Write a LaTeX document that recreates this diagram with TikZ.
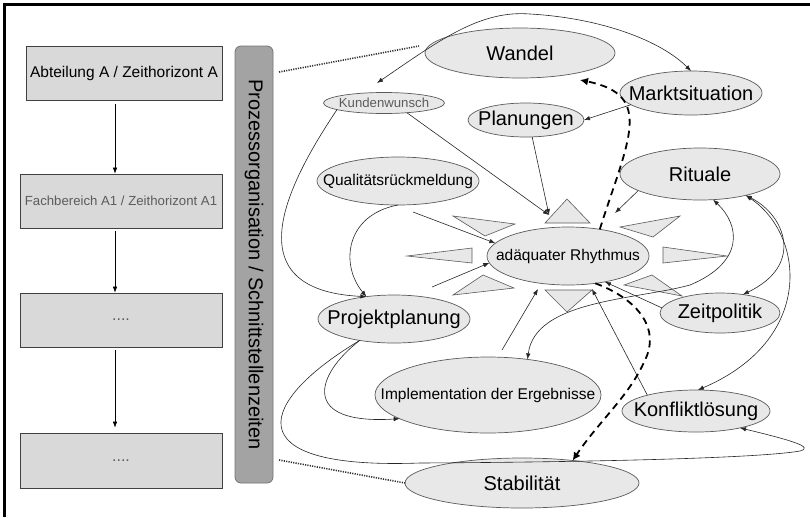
\documentclass[tikz,border=0pt]{standalone}
\usepackage{fontspec}
\setmainfont{Liberation Sans}
\usetikzlibrary{shapes.geometric,arrows.meta}

\definecolor{ellfill}{HTML}{E8E8E8}
\definecolor{ellline}{HTML}{5A5A5A}
\definecolor{boxfill}{HTML}{D9D9D9}
\definecolor{barfill}{HTML}{A3A3A3}
\definecolor{edgecol}{HTML}{262626}
\definecolor{softtext}{HTML}{5C5C5C}

% label of fixed-size ellipses: zero width so the ellipse keeps its set size
\newcommand\tagtext[1]{\makebox[0pt]{#1}}

\begin{document}
\begin{tikzpicture}[x=1pt,y=-1pt,
  topic/.style={ellipse, draw=ellline, fill=ellfill, line width=0.7pt, inner sep=0pt, outer sep=0pt, text=black},
  big/.style={font=\fontsize{20}{24}\selectfont},
  mid/.style={font=\fontsize{15.5}{18}\selectfont},
  small/.style={font=\fontsize{13.2}{16}\selectfont},
  unitbox/.style={rectangle, draw=black!75, fill=boxfill, line width=0.7pt, inner sep=0pt},
  flow/.style={draw=edgecol, line width=0.6pt, -{Latex[length=6pt,width=4.5pt]}},
  both/.style={draw=edgecol, line width=0.6pt, {Latex[length=6pt,width=4.5pt]}-{Latex[length=6pt,width=4.5pt]}},
  strong/.style={draw=black, line width=1.8pt, dash pattern=on 7pt off 5pt, -{Latex[length=8pt,width=8pt]}},
  link/.style={draw=black!80, line width=1.6pt, dash pattern=on 1.2pt off 1.2pt},
  ray/.style={draw=ellline, fill=ellfill, line width=0.6pt, line join=miter},
  down/.style={draw=black, line width=0.6pt, -{Latex[length=6pt,width=4.5pt]}},
]
\useasboundingbox (0,0) rectangle (810,517);

% frame (top and left)
\draw[line width=2.8pt] (3,4.5) -- (810,4.5);
\draw[line width=2.8pt] (4.5,3) -- (4.5,517);

% organisational units
\node[unitbox, minimum width=196pt, minimum height=54pt, mid] (abt) at (124,73) {Abteilung A / Zeithorizont A};
\node[unitbox, minimum width=202pt, minimum height=54pt, small, text=softtext] (fach) at (121,201) {Fachbereich A1 / Zeithorizont A1};
\node[unitbox, minimum width=202pt, minimum height=54pt, font=\fontsize{16}{18}\selectfont, text=softtext] (u3) at (121,320) {....};
\node[unitbox, minimum width=202pt, minimum height=55pt, font=\fontsize{16}{18}\selectfont, text=softtext] (u4) at (121,460.5) {....};

\coordinate (ax) at (115,0);
\draw[down, shorten <=4pt] (abt.south -| ax) -- (fach.north -| ax);
\draw[down, shorten <=3pt] (fach.south -| ax) -- (u3.north -| ax);
\draw[down, shorten <=3pt, shorten >=5pt] (u3.south -| ax) -- (u4.north -| ax);

% process bar
\node[rotate=-90, draw=black!55, fill=barfill, rounded corners=6pt, line width=0.8pt,
      minimum width=437pt, minimum height=38pt, inner sep=0pt, big] (bar) at (254,264.5)
      {Prozessorganisation / Schnittstellenzeiten};

% rays around the rhythm
\draw[ray] (545,223) -- (567,199) -- (590,223) -- cycle;
\draw[ray] (453,216) -- (515,224) -- (485,236) -- cycle;
\draw[ray] (620,227) -- (680,216) -- (653,237) -- cycle;
\draw[ray] (407,256) -- (472,248) -- (472,263) -- cycle;
\draw[ray] (663,247) -- (727,256) -- (663,263) -- cycle;
\draw[ray] (453,295) -- (483,275) -- (514,288) -- cycle;
\draw[ray] (545,290) -- (592,290) -- (567,312) -- cycle;
\draw[ray] (624,285) -- (652,275) -- (682,296) -- cycle;

% factors
\node[topic, big, minimum width=190pt, minimum height=50pt] (wandel) at (520,53) {\tagtext{Wandel}};
\node[topic, big, minimum width=142pt, minimum height=44pt] (markt) at (691,93) {\tagtext{Marktsituation}};
\node[topic, big, minimum width=116pt, minimum height=34pt] (plan) at (526,120) {\tagtext{Planungen}};
\node[topic, small, text=softtext, minimum width=121pt, minimum height=21pt] (kunden) at (384,103) {\tagtext{Kundenwunsch}};
\node[topic, mid, minimum width=162pt, minimum height=48pt] (qual) at (398,181) {\tagtext{Qualitätsrückmeldung}};
\node[topic, big, minimum width=160pt, minimum height=52pt] (rituale) at (700,174) {\tagtext{Rituale}};
\node[topic, mid, minimum width=162pt, minimum height=58pt] (rhythm) at (568,256) {\tagtext{adäquater Rhythmus}};
\node[topic, big, minimum width=120pt, minimum height=40pt] (zeit) at (720,313) {\tagtext{Zeitpolitik}};
\node[topic, big, minimum width=152pt, minimum height=48pt] (projekt) at (394,319) {\tagtext{Projektplanung}};
\node[topic, mid, minimum width=226pt, minimum height=76pt] (impl) at (488,395) {\tagtext{Implementation der Ergebnisse}};
\node[topic, big, minimum width=148pt, minimum height=42pt] (konflikt) at (696,411) {\tagtext{Konfliktlösung}};
\node[topic, big, minimum width=234pt, minimum height=50pt] (stab) at (522,483) {\tagtext{Stabilität}};

% free ends of connectors
\coordinate (kwtip) at (377,83);
\coordinate (toptip) at (549,215);
\coordinate (wdtip) at (580,80);
\coordinate (rtip) at (615,213);
\coordinate (qstart) at (413,212);
\coordinate (pstart) at (432,287);
\coordinate (istart) at (502,350);
\coordinate (itip) at (538,289);
\coordinate (ktip) at (592,289);
\coordinate (dtop) at (279,72);
\coordinate (dwand) at (419,46);
\coordinate (dbot) at (279,460);

% dotted links from the bar
\draw[link] (dtop) -- (dwand);
\draw[link] (dbot) -- (stab.west);

% connectors
\draw[both] (kwtip) .. controls (440,40) and (480,10) .. (530,14) .. controls (600,18) and (660,40) .. (markt.north);
\draw[flow] (markt.191) -- (plan.east);
\draw[flow] (plan.-70) -- (toptip);
\draw[flow] (kunden.-23) -- (toptip);
\draw[strong] (rhythm.40) .. controls (628,140) and (655,95) .. (wdtip);
\draw[flow] (rituale.-165) -- (rtip);
\draw[flow] (qual.south) .. controls (345,215) and (340,265) .. (projekt.141);
\draw[flow] (kunden.-172) .. controls (290,180) and (230,290) .. (projekt.141);
\draw[flow] (qstart) -- (rhythm.170);
\draw[flow] (pstart) -- (rhythm.185);
\draw[flow] (istart) -- (itip);
\draw[flow] (konflikt.162) -- (ktip);
\draw[flow] (zeit.175) -- (rhythm.-35);
\draw[both] (impl.42) .. controls (535,300) and (635,300) .. (690,285) .. controls (745,262) and (740,225) .. (rituale.-63);
\draw[both] (rituale.-25) .. controls (785,215) and (805,265) .. (zeit.39);
\draw[both] (rituale.-25) .. controls (805,235) and (815,340) .. (konflikt.85);
\draw[strong] (rhythm.-45) .. controls (640,300) and (660,330) .. (645,360) .. controls (630,395) and (600,420) .. (stab.24);
\draw[flow] (projekt.-148) .. controls (315,375) and (300,425) .. (impl.-165);
\draw[flow] (projekt.-148) .. controls (260,400) and (230,470) .. (420,463) .. controls (600,462) and (760,458) .. (800,451) .. controls (815,447) and (790,440) .. (konflikt.-21);

\end{tikzpicture}
\end{document}
